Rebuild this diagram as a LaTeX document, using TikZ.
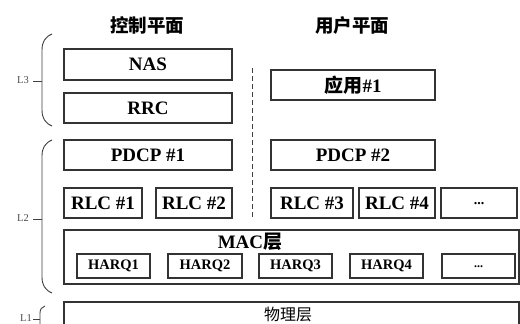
\documentclass[tikz,border=0pt]{standalone}
\usepackage{fontspec}
\setmainfont{Liberation Serif}
\newfontfamily\cjk{Noto Sans CJK SC}
\begin{document}
\begin{tikzpicture}[x=1pt,y=-1pt,
  box/.style={draw=black!80, line width=1.1pt, inner sep=0pt, font=\bfseries\fontsize{19}{21}\selectfont},
  hbox/.style={box, minimum width=73pt, minimum height=24pt, font=\bfseries\fontsize{14.5}{16}\selectfont},
  brace/.style={draw=black!75, line width=0.9pt},
  lbl/.style={font=\fontsize{10.5}{12}\selectfont, text=black!70, inner sep=0pt},
  title/.style={font=\cjk\bfseries\fontsize{18.5}{20}\selectfont, inner sep=0pt}]
\clip (0,0) rectangle (520,324);
\fill[white] (0,0) rectangle (520,324);
% titles
\node[title] (t1) at (147,25) {控制平面};
\node[title] (t2) at (352,25) {用户平面};
% L3
\node[box, minimum width=168pt, minimum height=31pt] (nas) at (148,64.5) {NAS};
\node[box, minimum width=168pt, minimum height=30pt] (rrc) at (148,108) {RRC};
\node[box, minimum width=164pt, minimum height=30pt] (app) at (353,85) {{\cjk 应用}\#1};
% L2
\node[box, minimum width=168pt, minimum height=30pt] (pdcp1) at (148,155) {PDCP \#1};
\node[box, minimum width=164pt, minimum height=30pt] (pdcp2) at (353,155) {PDCP \#2};
\node[box, minimum width=78pt, minimum height=30pt] (rlc1) at (103,203) {RLC \#1};
\node[box, minimum width=76pt, minimum height=30pt] (rlc2) at (194,203) {RLC \#2};
\node[box, minimum width=82pt, minimum height=30pt] (rlc3) at (312,203) {RLC \#3};
\node[box, minimum width=76pt, minimum height=30pt] (rlc4) at (397,203) {RLC \#4};
\node[box, minimum width=76pt, minimum height=30pt, font=\bfseries\fontsize{14}{16}\selectfont] (rlc5) at (479,203) {\raisebox{-3pt}{...}};
\node[box, minimum width=455pt, minimum height=54pt] (mac) at (291.5,257) {};
\node[font=\bfseries\fontsize{19}{21}\selectfont, inner sep=0pt] (mact) at (250,242) {MAC{\cjk 层}};
\node[hbox] (h1) at (113.5,266) {HARQ1};
\node[hbox, minimum width=74pt] (h2) at (205,266) {HARQ2};
\node[hbox] (h3) at (295.5,266) {HARQ3};
\node[hbox] (h4) at (386.5,266) {HARQ4};
\node[hbox, font=\bfseries\fontsize{12}{14}\selectfont] (h5) at (478.5,266) {\raisebox{-3pt}{...}};
% L1
\node[box, minimum width=455pt, minimum height=28pt] (phy) at (291.5,316) {};
\node[font=\cjk\fontsize{16}{18}\selectfont, inner sep=0pt] (phyt) at (288,314) {物理层};
% dashed separator
\coordinate (d1) at (252,68);
\coordinate (d2) at (252,218);
\draw[black!75, line width=0.9pt, dash pattern=on 5pt off 3pt] (d1) -- (d2);
% braces
\draw[brace] (52,34) .. controls (45,37) and (42,42) .. (42,50) -- (42,110) .. controls (42,118) and (45,123) .. (52,126);
\coordinate (l3a) at (42,81);
\coordinate (l3b) at (33,81);
\draw[brace] (l3a) -- (l3b);
\node[lbl, anchor=east] (l3) at (29,80) {L3};
\draw[brace] (52,140) .. controls (45,143) and (42,148) .. (42,156) -- (42,277) .. controls (42,285) and (45,290) .. (52,293);
\coordinate (l2a) at (42,219);
\coordinate (l2b) at (33,219);
\draw[brace] (l2a) -- (l2b);
\node[lbl, anchor=east] (l2) at (29,218) {L2};
\draw[brace] (45,306) .. controls (42,307) and (40,309) .. (40,313) -- (40,330);
\coordinate (l1a) at (40,319);
\coordinate (l1b) at (33,319);
\draw[brace] (l1a) -- (l1b);
\node[lbl, anchor=east] (l1) at (32,318) {L1};
\end{tikzpicture}
\end{document}
